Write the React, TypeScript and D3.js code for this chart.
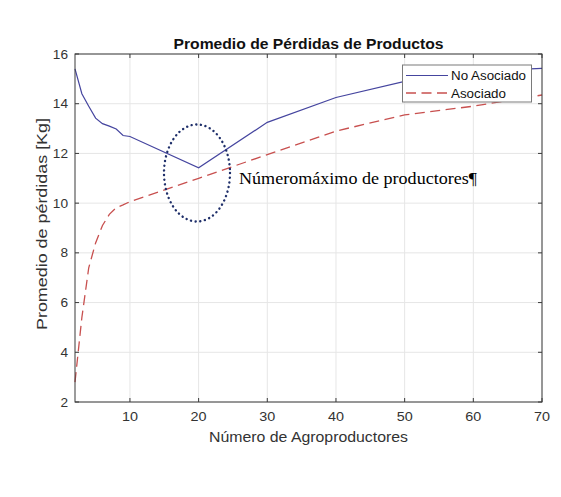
import React from "react";
import * as d3 from "d3";

const xValues = [2, 3, 4, 5, 6, 7, 8, 9, 10, 20, 30, 40, 50, 60, 70];
const noAsociado = [15.4, 14.4, 13.9, 13.42, 13.2, 13.1, 12.98, 12.72, 12.68, 11.42, 13.25, 14.25, 14.9, 15.3, 15.42];
const asociado = [2.8, 5.4, 7.4, 8.4, 9.1, 9.55, 9.82, 9.93, 10.06, 11.0, 11.95, 12.9, 13.55, 13.9, 14.35];
const xTicks = [10, 20, 30, 40, 50, 60, 70];
const yTicks = [2, 4, 6, 8, 10, 12, 14, 16];
const seriesNames = ["No Asociado", "Asociado"];

const W = 561;
const H = 497;
const L = 75, R = 542, T = 54, B = 402;

export default function App() {
  const x = d3.scaleLinear().domain([2, 70]).range([L, R]);
  const y = d3.scaleLinear().domain([2, 16]).range([B, T]);
  const line = d3.line<number>().x((_, i) => x(xValues[i])).y((d) => y(d));
  const font = "Liberation Sans, Arial, sans-serif";
  const blue = "#45459f";
  const red = "#c8504f";
  return (
    <svg width={W} height={H} style={{ position: "absolute", left: 0, top: 0, background: "#fff" }}>
      <rect x={0} y={0} width={W} height={H} fill="#fff" />
      {xTicks.map((t) => (
        <line key={"gx" + t} x1={x(t)} x2={x(t)} y1={T} y2={B} stroke="#e6e6e6" strokeWidth={1} />
      ))}
      {yTicks.map((t) => (
        <line key={"gy" + t} x1={L} x2={R} y1={y(t)} y2={y(t)} stroke="#e6e6e6" strokeWidth={1} />
      ))}
      <path d={line(asociado) || ""} fill="none" stroke={red} strokeWidth={1.3} strokeDasharray="10 5.5" />
      <path d={line(noAsociado) || ""} fill="none" stroke={blue} strokeWidth={1.2} />
      <rect x={L} y={T} width={R - L} height={B - T} fill="none" stroke="#3a3a3a" strokeWidth={1} />
      {xTicks.map((t) => (
        <g key={"tx" + t}>
          <line x1={x(t)} x2={x(t)} y1={B} y2={B - 4} stroke="#3a3a3a" />
          <line x1={x(t)} x2={x(t)} y1={T} y2={T + 4} stroke="#3a3a3a" />
          <text x={x(t)} y={B + 19} textAnchor="middle" fontFamily={font} fontSize={12.5} fill="#333"
            textLength={String(t).length * 8} lengthAdjust="spacingAndGlyphs">
            {t}
          </text>
        </g>
      ))}
      {yTicks.map((t) => (
        <g key={"ty" + t}>
          <line x1={L} x2={L + 4} y1={y(t)} y2={y(t)} stroke="#3a3a3a" />
          <line x1={R} x2={R - 4} y1={y(t)} y2={y(t)} stroke="#3a3a3a" />
          <text x={L - 7} y={y(t) + 4.5} textAnchor="end" fontFamily={font} fontSize={12.5} fill="#333"
            textLength={String(t).length * 7.6} lengthAdjust="spacingAndGlyphs">
            {t}
          </text>
        </g>
      ))}
      <text x={(L + R) / 2} y={49} textAnchor="middle" fontFamily={font} fontSize={14.5} fontWeight="bold" fill="#111"
        textLength={270} lengthAdjust="spacingAndGlyphs">
        Promedio de Pérdidas de Productos
      </text>
      <text x={(L + R) / 2} y={442} textAnchor="middle" fontFamily={font} fontSize={15.5} fill="#333"
        textLength={199} lengthAdjust="spacingAndGlyphs">
        Número de Agroproductores
      </text>
      <text
        transform={`translate(47,${(T + B) / 2 - 4}) rotate(-90)`}
        textAnchor="middle"
        fontFamily={font}
        fontSize={15.5}
        fill="#333"
        textLength={212}
        lengthAdjust="spacingAndGlyphs"
      >
        Promedio de pérdidas [Kg]
      </text>
      <rect x={402.5} y={65} width={129} height={37} fill="#fff" stroke="#7a7a7a" strokeWidth={1} />
      <line x1={406} x2={448} y1={75.5} y2={75.5} stroke={blue} strokeWidth={1.2} />
      <line x1={406} x2={448} y1={93} y2={93} stroke={red} strokeWidth={1.3} strokeDasharray="10 5.5" />
      <text x={451} y={80} fontFamily={font} fontSize={12} fill="#111" textLength={75} lengthAdjust="spacingAndGlyphs">
        {seriesNames[0]}
      </text>
      <text x={451} y={97.5} fontFamily={font} fontSize={12} fill="#111" textLength={55} lengthAdjust="spacingAndGlyphs">
        {seriesNames[1]}
      </text>
      <ellipse cx={197} cy={173} rx={33} ry={48.5} fill="none" stroke="#1f2f6a" strokeWidth={2.4} strokeDasharray="0.1 4.6" strokeLinecap="round" />
      <text x={239} y={184} fontFamily="Liberation Serif, Times New Roman, serif" fontSize={16} fill="#000" textLength={238} lengthAdjust="spacingAndGlyphs">
        Númeromáximo de productores¶
      </text>
    </svg>
  );
}
